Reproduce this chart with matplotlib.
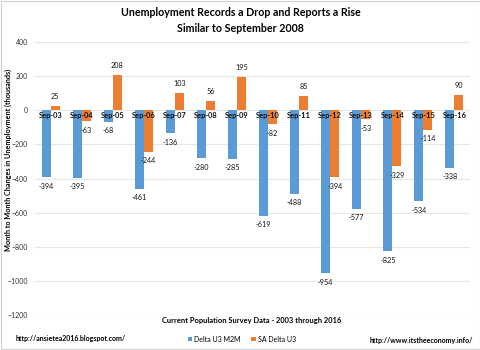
import numpy as np
import matplotlib
matplotlib.use("Agg")
import matplotlib.pyplot as plt
from matplotlib.patches import Rectangle

# ---- data (thousands) ----
years = ["Sep-03", "Sep-04", "Sep-05", "Sep-06", "Sep-07", "Sep-08", "Sep-09",
         "Sep-10", "Sep-11", "Sep-12", "Sep-13", "Sep-14", "Sep-15", "Sep-16"]
u3_m2m = [-394, -395, -68, -461, -136, -280, -285, -619, -488, -954, -577, -825, -534, -338]
sa_u3 = [25, -63, 208, -244, 103, 56, 195, -82, 85, -394, -53, -329, -114, 90]

blue, orange = "#5B9BD5", "#ED7D31"
plt.rcParams["font.family"] = ["Lato", "DejaVu Sans"]

fig = plt.figure(figsize=(4.81, 3.5), dpi=100)
ax = fig.add_axes([35 / 481, 1 - 315 / 350, 435 / 481, 273 / 350])

x = np.arange(len(years))
w = 0.29
b1 = ax.bar(x - w / 2, u3_m2m, w, color=blue, label="Delta U3 M2M", zorder=2)
b2 = ax.bar(x + w / 2, sa_u3, w, color=orange, label="SA Delta U3", zorder=2)

for bars, vals in [(b1, u3_m2m), (b2, sa_u3)]:
    for b, v in zip(bars, vals):
        cx = b.get_x() + b.get_width() / 2
        if v >= 0:
            ax.annotate(f"{v}", (cx, v), xytext=(0, 4), textcoords="offset points",
                        ha="center", va="bottom", fontsize=5.2, color="#111111")
        else:
            ax.annotate(f"{v}", (cx, v), xytext=(0, -4), textcoords="offset points",
                        ha="center", va="top", fontsize=5.2, color="#111111")

# category labels sit at the zero line
for xi, lab in zip(x, years):
    ax.text(xi, -8, lab, ha="center", va="top", fontsize=5.4, fontweight="bold",
            color="#111111", zorder=3)

ax.set_xlim(-0.5, len(years) - 0.5)
ax.set_ylim(-1200, 400)
ax.set_yticks(np.arange(-1200, 401, 200))
ax.tick_params(axis="y", labelsize=5, length=0, pad=5, labelcolor="#333333")
ax.set_xticks([])
ax.grid(axis="y", color="#E6E6E6", linewidth=0.8, zorder=0)
for s in ax.spines.values():
    s.set_visible(False)

fig.text(0.5, 1 - 13 / 350, "Unemployment Records a Drop and Reports a Rise",
         ha="center", va="center", fontsize=7.7, fontweight="bold")
fig.text(0.5, 1 - 28 / 350, "Similar to September 2008",
         ha="center", va="center", fontsize=7.7, fontweight="bold")
fig.text(8 / 481, 1 - 160 / 350, "Month to Month Changes in Unemployment (thousands)",
         rotation=90, ha="center", va="center", fontsize=5.2, fontweight="bold")
fig.text(252 / 481, 1 - 321 / 350, "Current Population Survey Data - 2003 through 2016",
         ha="center", va="center", fontsize=5.4, fontweight="bold")
fig.text(16 / 481, 1 - 339 / 350, "http://ansietea2016.blogspot.com/",
         ha="left", va="center", fontsize=5, fontweight="bold")
fig.text(473 / 481, 1 - 340 / 350, "http://www.itstheeconomy.info/",
         ha="right", va="center", fontsize=5, fontweight="bold")

fig.legend(handles=[b1, b2], loc="center", bbox_to_anchor=(242 / 481, 1 - 339 / 350),
           ncol=2, frameon=False, fontsize=5, handlelength=0.6, handleheight=0.6,
           columnspacing=1.5, handletextpad=0.4)

fig.patches.append(Rectangle((0.002, 0.003), 0.996, 0.994, transform=fig.transFigure,
                             fill=False, edgecolor="#D0D0D0", linewidth=0.8))

fig.savefig("out.png", dpi=100)
